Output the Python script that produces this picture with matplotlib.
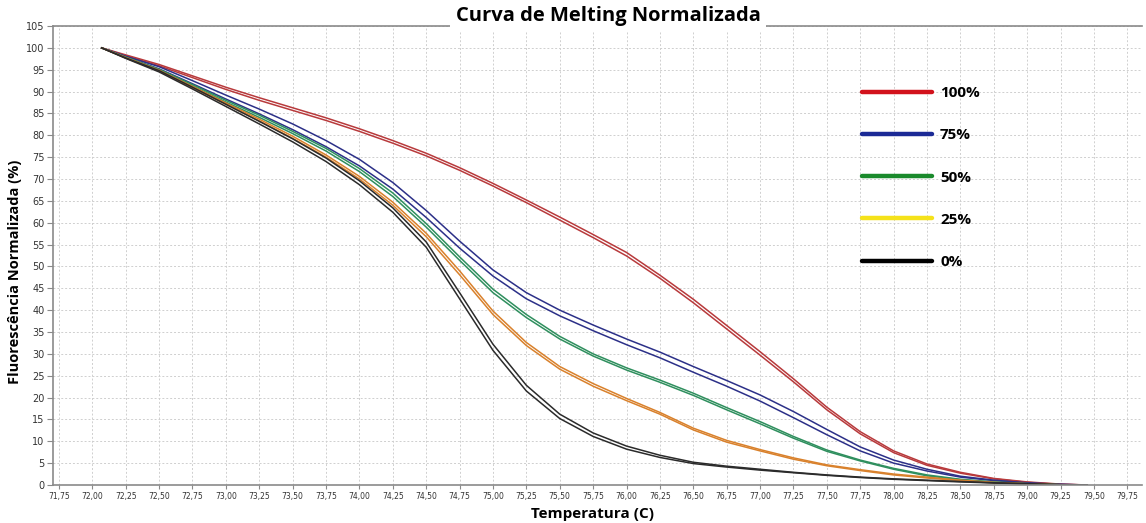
import matplotlib
matplotlib.use("Agg")
import matplotlib.pyplot as plt
from matplotlib.lines import Line2D
from matplotlib.ticker import MultipleLocator, FuncFormatter

# temperature points (C)
temps = [72.07, 72.25, 72.5, 72.75, 73.0, 73.25, 73.5, 73.75, 74.0, 74.25, 74.5,
         74.75, 75.0, 75.25, 75.5, 75.75, 76.0, 76.25, 76.5, 76.75, 77.0, 77.25,
         77.5, 77.75, 78.0, 78.25, 78.5, 78.75, 79.0, 79.25, 79.45]

# normalized fluorescence (%), two replicates per sample
red_a = [100, 98.4, 96.2, 93.6, 91.0, 88.6, 86.3, 84.0, 81.5, 78.8, 75.9, 72.6, 69.0,
         65.2, 61.3, 57.3, 53.2, 48.0, 42.5, 36.5, 30.5, 24.3, 17.8, 12.2, 7.8, 4.8,
         2.9, 1.5, 0.7, 0.2, 0]
red_b = [100, 98.2, 95.9, 93.2, 90.5, 88.0, 85.7, 83.4, 80.9, 78.2, 75.3, 72.0, 68.4,
         64.6, 60.6, 56.6, 52.4, 47.3, 41.7, 35.7, 29.7, 23.6, 17.2, 11.7, 7.4, 4.5,
         2.7, 1.4, 0.6, 0.15, 0]
blue_a = [100, 98.1, 95.7, 92.5, 89.2, 86.0, 82.6, 78.8, 74.5, 69.2, 62.8, 55.8, 49.2,
          44.0, 40.0, 36.6, 33.4, 30.4, 27.1, 23.9, 20.6, 16.8, 12.7, 8.7, 5.7, 3.6,
          2.0, 1.1, 0.5, 0.15, 0]
blue_b = [100, 97.9, 95.2, 91.8, 88.3, 84.9, 81.3, 77.4, 73.0, 67.7, 61.2, 54.2, 47.8,
          42.6, 38.7, 35.3, 32.1, 29.1, 25.8, 22.6, 19.2, 15.4, 11.5, 7.8, 5.0, 3.2,
          1.8, 1.0, 0.4, 0.1, 0]
green_a = [100, 97.9, 95.1, 91.6, 88.0, 84.6, 80.9, 77.0, 72.4, 66.8, 59.8, 52.2, 44.8,
           39.0, 34.0, 30.0, 26.8, 24.0, 21.0, 17.7, 14.5, 11.1, 8.0, 5.7, 3.8, 2.3,
           1.3, 0.7, 0.3, 0.05, 0]
green_b = [100, 97.8, 94.9, 91.3, 87.6, 84.1, 80.4, 76.4, 71.7, 66.0, 59.0, 51.4, 44.0,
           38.3, 33.4, 29.5, 26.3, 23.5, 20.5, 17.2, 14.0, 10.7, 7.7, 5.5, 3.6, 2.1,
           1.2, 0.6, 0.25, 0.05, 0]
orange_a = [100, 97.8, 94.9, 91.2, 87.4, 83.7, 79.8, 75.5, 70.6, 64.7, 57.6, 49.0, 39.8,
            32.6, 27.1, 23.2, 19.8, 16.6, 13.0, 10.2, 8.1, 6.2, 4.6, 3.5, 2.5, 1.8,
            1.1, 0.6, 0.3, 0.05, 0]
orange_b = [100, 97.7, 94.7, 90.9, 87.1, 83.3, 79.3, 75.0, 70.0, 64.0, 56.8, 48.1, 39.0,
            31.9, 26.5, 22.6, 19.3, 16.2, 12.6, 9.8, 7.8, 5.9, 4.4, 3.3, 2.3, 1.6,
            1.0, 0.5, 0.25, 0.05, 0]
black_a = [100, 97.7, 94.8, 91.0, 87.1, 83.2, 79.2, 74.8, 69.6, 63.4, 55.6, 44.0, 32.2,
           22.8, 16.2, 11.9, 8.9, 6.8, 5.2, 4.3, 3.6, 2.9, 2.3, 1.8, 1.4, 1.1,
           0.8, 0.5, 0.3, 0.05, 0]
black_b = [100, 97.6, 94.5, 90.6, 86.6, 82.6, 78.5, 74.0, 68.7, 62.4, 54.4, 42.6, 30.8,
           21.5, 15.2, 11.1, 8.2, 6.3, 4.9, 4.1, 3.4, 2.8, 2.2, 1.7, 1.3, 1.0,
           0.7, 0.45, 0.25, 0.05, 0]

legend_labels = ["100%", "75%", "50%", "25%", "0%"]
legend_colors = ["#d2121c", "#1b2a96", "#1a8a2c", "#f5e21a", "#000000"]

curves = [
    (red_a, red_b, "#b83a3c"),
    (blue_a, blue_b, "#2c3088"),
    (green_a, green_b, "#2f8f5e"),
    (orange_a, orange_b, "#d9812c"),
    (black_a, black_b, "#2b2b2b"),
]

fig = plt.figure(figsize=(11.46, 5.23), dpi=100)
ax = fig.add_axes([0.0462, 0.0727, 0.9503, 0.8775])

for rep_a, rep_b, color in curves:
    ax.plot(temps, rep_a, color=color, linewidth=1.1)
    ax.plot(temps, rep_b, color=color, linewidth=1.1)

ax.set_xlim(71.705, 79.86)
ax.set_ylim(0, 105)
ax.xaxis.set_major_locator(MultipleLocator(0.25))
ax.yaxis.set_major_locator(MultipleLocator(5))
ax.xaxis.set_major_formatter(FuncFormatter(lambda v, p: f"{v:.2f}".replace(".", ",")))
ax.grid(True, color="#cfcfcf", linestyle=(0, (2, 2)), linewidth=0.7)
ax.set_axisbelow(True)

for side in ["left", "bottom", "top"]:
    ax.spines[side].set_color("#8a8a8a")
    ax.spines[side].set_linewidth(1.2)
ax.spines["right"].set_visible(False)

ax.tick_params(axis="x", labelsize=5.5, colors="#8a8a8a", labelcolor="#333333",
               length=3, pad=2)
ax.tick_params(axis="y", labelsize=7, colors="#8a8a8a", labelcolor="#333333",
               length=4, pad=2)

ax.set_xlabel("Temperatura (C)", fontsize=11, fontweight="bold", family="Open Sans")
ax.xaxis.set_label_coords(0.495, -0.048)
ax.set_ylabel("Fluorescência Normalizada (%)", fontsize=10.5, fontweight="bold",
              family="Open Sans")
ax.yaxis.set_label_coords(-0.028, 0.465)
ax.set_title("Curva de Melting Normalizada", fontsize=14.5, fontweight="bold",
             family="Open Sans", pad=-9, x=0.51,
             bbox=dict(facecolor="white", edgecolor="none", pad=4))

handles = [Line2D([], [], color=c, linewidth=3.2, solid_capstyle="round")
           for c in legend_colors]
leg = ax.legend(handles, legend_labels, loc="upper left", bbox_to_anchor=(0.736, 0.886),
                frameon=False, handlelength=4.6, handletextpad=0.5, labelspacing=1.85,
                borderpad=0, prop={"family": "Open Sans", "weight": "bold", "size": 11})

fig.savefig("out.png", dpi=100)
